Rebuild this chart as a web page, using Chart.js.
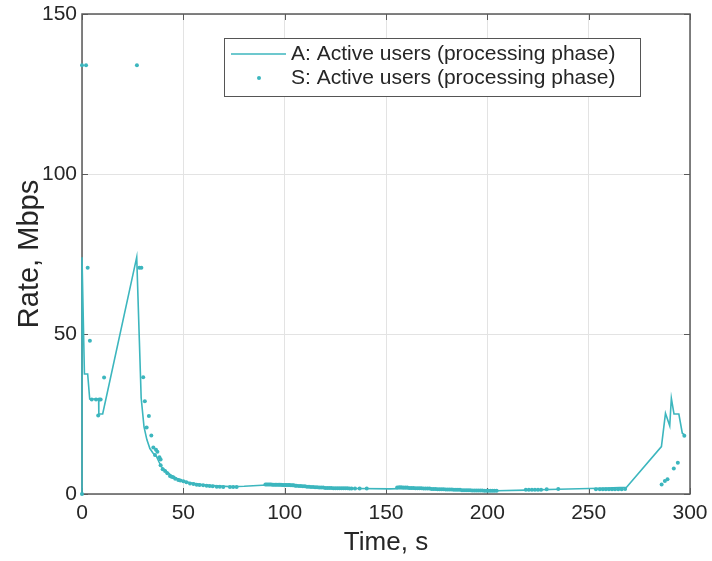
<!DOCTYPE html>
<html>
<head>
<meta charset="utf-8">
<script src="https://cdn.jsdelivr.net/npm/chart.js@4.4.1/dist/chart.umd.min.js"></script>
<style>
html,body{margin:0;padding:0;background:#fff;}
canvas{display:block;}
</style>
</head>
<body>
<canvas id="c" width="712" height="561"></canvas>
<script>
// ---- data ----
const xTicks = [0, 50, 100, 150, 200, 250, 300];
const yTicks = [0, 50, 100, 150];
const seriesNames = ["A: Active users (processing phase)", "S: Active users (processing phase)"];

const lineX = [0, 0, 1.2, 2.8, 3.8, 8.2, 8.3, 10.2, 27, 28.3, 29.2, 30.6, 32, 33.5, 35, 36.8, 38, 39.2, 41.8, 44, 46.7, 50, 53.3, 56.6, 60, 63, 68, 73, 80, 91, 100, 110, 122, 135, 152, 160, 175, 190, 204.6, 219, 235, 255.5, 268.7, 285.9, 287.9, 290, 290.8, 292.1, 294.5, 296.2, 297.5];
const lineY = [0, 74, 37.5, 37.5, 29.7, 29.7, 25, 25, 74, 48, 30, 21, 17, 14.2, 12.8, 11.7, 10, 8.5, 7, 5.8, 4.9, 4.1, 3.5, 3.2, 2.9, 2.7, 2.5, 2.3, 2.4, 2.8, 2.7, 2.3, 1.9, 1.7, 1.6, 1.7, 1.4, 1.1, 1.0, 1.2, 1.5, 1.8, 2.1, 14.8, 25.2, 21.3, 29.9, 25, 25, 19, 18.4];

const dotX = [0, 0, 2, 27.1, 2.8, 3.9, 4.8, 6.9, 8.5, 9.2, 8, 10.9,
  28.3, 29.3, 30.2, 31, 31.9, 33, 34.2, 35.2, 36, 36.5, 37.2, 38.2, 38.8, 38.8, 39.8, 41, 42.1, 43.4, 44.2, 45, 46, 47.5, 48.5, 50, 51.5, 53.3, 55, 56.6, 58, 59.8, 61.5, 63, 64.5, 66.5, 68, 69.7, 73, 74.6, 76.3,
  90.5, 91.2, 91.9, 92.6, 93.3, 94, 94.7, 95.4, 96.1, 96.8, 97.5, 98.2, 98.9, 99.6, 100.3, 101, 101.7, 102.4, 103.1, 103.8, 104.5, 105.2, 105.9,
  107, 108, 109, 110, 111, 112, 113, 114, 115, 116, 117, 118, 119, 120, 121, 122, 123, 124, 125, 126, 127, 128, 129, 130, 131, 132, 133, 134.7, 137, 140.5,
  155.5, 156.5, 157.5, 158.5, 159.5, 160.5, 161.5, 162.5, 163.5, 164.5, 165.5, 166.5, 167.5, 168.5, 169.5, 170.5, 171.5, 172.5, 173.5, 174.5, 175.5, 176.5, 177.5, 178.5, 179.5, 180.5, 181.5, 182.5, 183.5, 184.5, 185.5, 186.5, 187.5, 188.5, 189.5, 190.5, 191.5, 192.5, 193.5, 194.5, 195.5, 196.5, 197.5, 198.5, 199.5, 200.5, 201.5, 202.5, 203.5, 204.6,
  219, 220.5, 222, 223.5, 225, 226.5, 229.3, 235,
  253.6, 255.5, 257, 258.5, 260, 261.5, 263, 264.6, 266.3, 268,
  286, 287.6, 288.9, 292, 294, 297.2];
const dotY = [0, 134, 134, 134, 70.7, 47.9, 29.5, 29.5, 29.5, 29.5, 24.5, 36.4,
  70.7, 70.7, 36.5, 29, 20.8, 24.4, 18.3, 14.5, 12.2, 13.8, 13.2, 11.5, 10.8, 9, 7.7, 7.2, 6.5, 5.6, 5.4, 5.2, 4.8, 4.4, 4.2, 4, 3.7, 3.3, 3.1, 2.9, 2.8, 2.7, 2.6, 2.5, 2.4, 2.3, 2.3, 2.2, 2.2, 2.2, 2.2,
  3.0, 3.0, 3.0, 3.0, 3.0, 2.9, 2.9, 2.9, 2.9, 2.9, 2.9, 2.9, 2.8, 2.8, 2.8, 2.8, 2.8, 2.8, 2.7, 2.7, 2.7, 2.6, 2.6,
  2.5, 2.5, 2.4, 2.4, 2.3, 2.3, 2.2, 2.2, 2.1, 2.1, 2.0, 2.0, 2.0, 1.9, 1.9, 1.9, 1.9, 1.8, 1.8, 1.8, 1.8, 1.8, 1.8, 1.8, 1.8, 1.7, 1.7, 1.7, 1.7, 1.7,
  2.0, 2.1, 2.1, 2.0, 2.0, 2.0, 1.9, 1.9, 1.9, 1.8, 1.8, 1.8, 1.8, 1.7, 1.7, 1.7, 1.7, 1.6, 1.6, 1.6, 1.5, 1.5, 1.5, 1.5, 1.4, 1.4, 1.4, 1.4, 1.3, 1.3, 1.3, 1.3, 1.2, 1.2, 1.2, 1.2, 1.2, 1.1, 1.1, 1.1, 1.1, 1.1, 1.1, 1.0, 1.0, 1.0, 1.0, 1.0, 1.0, 1.0,
  1.3, 1.3, 1.3, 1.3, 1.3, 1.3, 1.5, 1.6,
  1.5, 1.5, 1.5, 1.5, 1.5, 1.5, 1.5, 1.5, 1.5, 1.6,
  3.0, 4.1, 4.6, 8, 9.8, 18.2];

// ---- styles ----
const TEAL = 'rgb(60,182,190)';
const TEXT = '#262626';
const AXIS = '#5a5a5a';
const FONT = '"Liberation Sans", Arial, Helvetica, sans-serif';

const frame = {
  id: 'frame',
  beforeDatasetsDraw(chart) {
    const {ctx, chartArea: a, scales: {x, y}} = chart;
    ctx.save();
    ctx.strokeStyle = AXIS;
    ctx.lineWidth = 1;
    const tl = 6;
    ctx.beginPath();
    xTicks.forEach(v => {
      const px = Math.round(x.getPixelForValue(v)) + 0.5;
      ctx.moveTo(px, a.bottom); ctx.lineTo(px, a.bottom - tl);
      ctx.moveTo(px, a.top); ctx.lineTo(px, a.top + tl);
    });
    yTicks.forEach(v => {
      const py = Math.round(y.getPixelForValue(v)) + 0.5;
      ctx.moveTo(a.left, py); ctx.lineTo(a.left + tl, py);
      ctx.moveTo(a.right, py); ctx.lineTo(a.right - tl, py);
    });
    ctx.stroke();
    ctx.lineWidth = 1.5;
    ctx.strokeRect(a.left, a.top, a.right - a.left, a.bottom - a.top);
    ctx.restore();
  },
  afterDraw(chart) {
    const {ctx, chartArea: a} = chart;
    ctx.save();
    const bx = a.left + 142, by = a.top + 24, bw = 416, bh = 58;
    ctx.fillStyle = '#fff';
    ctx.fillRect(bx, by, bw, bh);
    ctx.strokeStyle = '#555';
    ctx.lineWidth = 1;
    ctx.strokeRect(bx + 0.5, by + 0.5, bw, bh);
    const r1 = by + 16, r2 = by + 40;
    ctx.strokeStyle = TEAL;
    ctx.lineWidth = 1.5;
    ctx.beginPath();
    ctx.moveTo(bx + 7, r1); ctx.lineTo(bx + 62, r1);
    ctx.stroke();
    ctx.fillStyle = TEAL;
    ctx.beginPath();
    ctx.arc(bx + 35, r2, 2, 0, Math.PI * 2);
    ctx.fill();
    ctx.fillStyle = TEXT;
    ctx.font = '21px ' + FONT;
    ctx.textBaseline = 'middle';
    ctx.textAlign = 'left';
    ctx.fillText(seriesNames[0], bx + 67, r1);
    ctx.fillText(seriesNames[1], bx + 67, r2);
    ctx.restore();
  }
};

const chart = new Chart(document.getElementById('c'), {
  type: 'scatter',
  data: {
    datasets: [
      {
        label: seriesNames[0],
        data: lineX.map((v, i) => ({x: v, y: lineY[i]})),
        showLine: true,
        borderColor: TEAL,
        borderWidth: 1.6,
        pointRadius: 0,
        fill: false,
        tension: 0,
        clip: false,
        order: 2
      },
      {
        label: seriesNames[1],
        data: dotX.map((v, i) => ({x: v, y: dotY[i]})),
        showLine: false,
        pointRadius: 2,
        pointBorderWidth: 0,
        backgroundColor: TEAL,
        borderColor: TEAL,
        clip: false,
        order: 1
      }
    ]
  },
  options: {
    responsive: false,
    animation: false,
    devicePixelRatio: 1,
    layout: {padding: {top: 14, right: 22, left: 0, bottom: 0}},
    plugins: {legend: {display: false}, tooltip: {enabled: false}},
    scales: {
      x: {
        type: 'linear', position: 'bottom', min: 0, max: 300,
        afterBuildTicks: s => { s.ticks = xTicks.map(v => ({value: v})); },
        afterFit: s => { s.height = 67; s.paddingLeft = 0; s.paddingRight = 0; },
        grid: {color: '#e3e3e3', lineWidth: 1, drawTicks: false},
        border: {display: false},
        ticks: {color: TEXT, font: {family: FONT, size: 21}, padding: 7, maxRotation: 0},
        title: {display: true, text: 'Time, s', color: TEXT, font: {family: FONT, size: 26}, padding: {top: 0, bottom: 3}}
      },
      y: {
        type: 'linear', position: 'left', min: 0, max: 150,
        afterBuildTicks: s => { s.ticks = yTicks.map(v => ({value: v})); },
        afterFit: s => { s.width = 82; s.paddingTop = 0; s.paddingBottom = 0; },
        grid: {color: '#e3e3e3', lineWidth: 1, drawTicks: false},
        border: {display: false},
        ticks: {color: TEXT, font: {family: FONT, size: 21}, padding: 5},
        title: {display: true, text: 'Rate, Mbps', color: TEXT, font: {family: FONT, size: 29}, padding: {top: 13, bottom: 0}}
      }
    }
  },
  plugins: [frame]
});
</script>
</body>
</html>
